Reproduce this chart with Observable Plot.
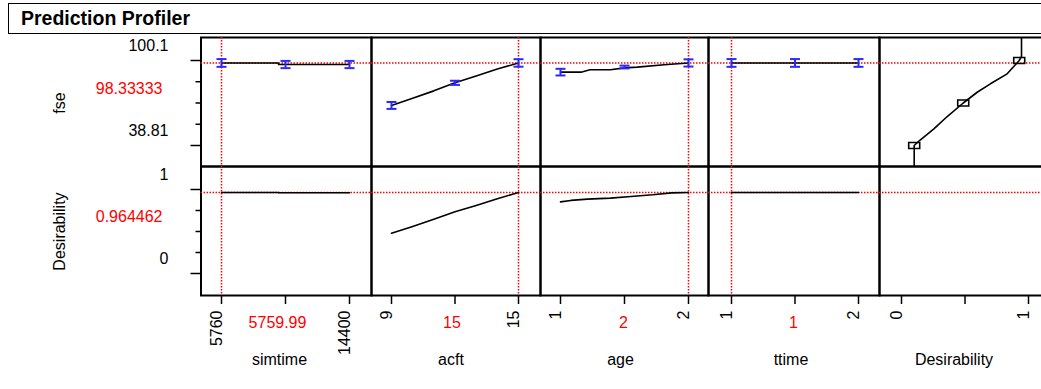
<!DOCTYPE html>
<html><head><meta charset="utf-8">
<script src="https://cdn.jsdelivr.net/npm/d3@7"></script>
<script src="https://cdn.jsdelivr.net/npm/@observablehq/plot@0.6"></script>
<style>
body{margin:0;background:#fff;font-family:"Liberation Sans",Arial,sans-serif;}
#chart{position:relative;width:1041px;height:389px;overflow:hidden;background:#fff;}
#title{position:absolute;left:8px;top:3px;width:1100px;height:31px;border:1.5px solid #000;box-sizing:border-box;font-weight:bold;font-size:19.5px;line-height:28px;padding-left:12px;color:#000;}
</style></head><body>
<div id="chart"><div id="title">Prediction Profiler</div></div>
<script>
// ---------- data ----------
const factorNames = ["simtime", "acft", "age", "ttime", "Desirability"];
const currentValues = [5759.99, 15, 2, 1];
const currentLabels = ["5759.99", "15", "2", "1"];
const xTicks = [[5760, 10080, 14400], [9, 12, 15], [1, 1.5, 2], [1, 1.5, 2], [0, 0.5, 1]];
const xTickLabels = [[5760, 14400], [9, 15], [1, 2], [1, 2], [0, 1]];

const fseCurrent = 98.33333, fseCurrentLabel = "98.33333";
const desCurrent = 0.964462, desCurrentLabel = "0.964462";
const fseTicks = [100.1, 38.81];
const fseMinorTicks = [84.78, 69.46, 54.13];
const desTicks = [1, 0];
const desMinorTicks = [0.75, 0.5, 0.25];

// simtime
const simX = [5760, 9600, 9610, 14400];
const simFse = [98.33, 98.33, 97.2, 97.2];
const simDes = [0.9645, 0.9645, 0.961, 0.961];
const simPtX = [5760, 10080, 14400];
const simPtFse = [98.33, 97.2, 97.2];
const simErr = [2.8, 2.6, 2.6];
// acft
const acftX = [9, 10, 11, 12, 13, 14, 15];
const acftFse = [67.7, 72.8, 78.2, 84.0, 89.0, 93.9, 98.33];
const acftDes = [0.48, 0.56, 0.645, 0.735, 0.81, 0.889, 0.9645];
const acftPtX = [9, 12, 15];
const acftPtFse = [67.7, 84.0, 98.33];
const acftErr = [2.5, 1.5, 2.7];
// age
const ageX = [1, 1.16, 1.23, 1.39, 1.5, 1.6, 1.81, 2];
const ageFse = [91.7, 91.7, 93.4, 93.4, 94.8, 95.3, 97.0, 98.33];
const ageDesX = [1, 1.08, 1.21, 1.39, 1.55, 1.72, 1.87, 2];
const ageDes = [0.853, 0.87, 0.885, 0.897, 0.917, 0.937, 0.96, 0.9645];
const agePtX = [1, 1.5, 2];
const agePtFse = [91.7, 95.4, 98.33];
const ageErr = [2.4, 1.0, 2.6];
// ttime
const ttX = [1, 1.5, 2];
const ttFse = [98.33, 98.33, 98.33];
const ttDes = [0.9645, 0.9645, 0.9645];
const ttPtX = [1, 1.5, 2];
const ttPtFse = [98.33, 98.33, 98.33];
const ttErr = [2.8, 2.8, 2.8];
// desirability function (desirability vs fse)
const desFnD = [0.1, 0.1, 0.142, 0.255, 0.36, 0.486, 0.596, 0.70, 0.832, 0.927, 0.945, 0.945];
const desFnFse = [20, 38.81, 42.4, 50.85, 59.7, 69.46, 77.2, 83.3, 90.5, 100.1, 103, 120];
const desSqD = [0.1, 0.486, 0.927];
const desSqFse = [38.81, 69.46, 100.1];

// ---------- layout ----------
const W = 1048, H = 389;
const colEdges = [200.5, 371, 540, 708, 879, 1048];
const rowEdges = [37, 166, 295];
const xRanges = [[221, 349], [391, 518], [560, 688], [731, 858], [901, 1028]];
const fseScale = {domain: [38.81, 100.1], range: [145, 60]};
const desScale = {domain: [0, 1], range: [273, 189]};
const nameDx = [-6, -4, -4, -4, -11];
const valueDx = [-8, -3, -1, -1.5];
const FONT = "'Liberation Sans', Arial, sans-serif";
const blue = "#2a2aff", red = "#ff0000";
const dotted = {stroke: red, strokeWidth: 1.5, strokeDasharray: "1.5 1.5"};

const profiles = [
  {lx: simX, lf: simFse, dx: simX, ld: simDes, px: simPtX, pf: simPtFse, pe: simErr},
  {lx: acftX, lf: acftFse, dx: acftX, ld: acftDes, px: acftPtX, pf: acftPtFse, pe: acftErr},
  {lx: ageX, lf: ageFse, dx: ageDesX, ld: ageDes, px: agePtX, pf: agePtFse, pe: ageErr},
  {lx: ttX, lf: ttFse, dx: ttX, ld: ttDes, px: ttPtX, pf: ttPtFse, pe: ttErr}
];

const capSymbol = {draw(ctx) { ctx.moveTo(-5, 0); ctx.lineTo(5, 0); }};
const rectSymbol = {draw(ctx) { ctx.rect(-5.5, -3, 11, 6); }};

function cell(c, r) {
  const top = r === 0;
  const marks = [Plot.frame({stroke: "black", strokeWidth: 2})];
  marks.push(Plot.ruleY([top ? fseCurrent : desCurrent], dotted));
  if (c < 4) marks.push(Plot.ruleX([currentValues[c]], dotted));
  if (c < 4) {
    const p = profiles[c];
    if (top) {
      const idx = d3.range(p.px.length);
      marks.push(Plot.line(p.lx, {x: p.lx, y: p.lf, stroke: "black", strokeWidth: 1.6}));
      const lo = p.pf.map((v, i) => v - p.pe[i]);
      const hi = p.pf.map((v, i) => v + p.pe[i]);
      marks.push(Plot.ruleX(idx, {x: p.px, y1: lo, y2: hi, stroke: blue, strokeWidth: 2}));
      marks.push(Plot.dot(idx, {x: p.px, y: lo, symbol: capSymbol, stroke: blue, strokeWidth: 2, fill: "none"}));
      marks.push(Plot.dot(idx, {x: p.px, y: hi, symbol: capSymbol, stroke: blue, strokeWidth: 2, fill: "none"}));
    } else {
      marks.push(Plot.line(p.dx, {x: p.dx, y: p.ld, stroke: "black", strokeWidth: 1.6}));
    }
  } else if (top) {
    marks.push(Plot.line(desFnD, {x: desFnD, y: desFnFse, stroke: "black", strokeWidth: 1.6, clip: true}));
    marks.push(Plot.dot(desSqD, {x: desSqD, y: desSqFse, symbol: rectSymbol, stroke: "black", strokeWidth: 1.6, fill: "none"}));
  }
  if (c === 0) {
    const major = top ? fseTicks : desTicks;
    const minor = top ? fseMinorTicks : desMinorTicks;
    marks.push(Plot.axisY(major, {anchor: "left", tickSize: 10, fill: "none", strokeWidth: 1.5, label: null}));
    marks.push(Plot.axisY(minor, {anchor: "left", tickSize: 5, fill: "none", strokeWidth: 1.5, label: null}));
    marks.push(Plot.axisY(major, {anchor: "left", stroke: "none", tickSize: 10, tickPadding: 22.5, dy: -14.5,
      fontSize: 16, fill: "black", tickFormat: d => String(d), label: null}));
    marks.push(Plot.text([top ? fseCurrentLabel : desCurrentLabel], {text: d => d, y: [minor[1]], frameAnchor: "left",
      dx: -38.5, dy: -14.5, textAnchor: "end", fill: red, fontSize: 16}));
    marks.push(Plot.text([top ? "fse" : "Desirability"], {text: d => d, y: [minor[1]], frameAnchor: "left",
      dx: -141, textAnchor: "middle", lineAnchor: "middle", rotate: -90, fill: "black", fontSize: 16}));
  }
  if (!top) {
    marks.push(Plot.axisX(xTicks[c], {anchor: "bottom", tickSize: 9, fill: "none", strokeWidth: 1.5, label: null}));
    marks.push(Plot.axisX(xTickLabels[c], {anchor: "bottom", stroke: "none", tickSize: 9, tickPadding: 6, tickRotate: -90,
      dx: -5, fontSize: 16, fill: "black", tickFormat: d => String(d), label: null}));
    if (c < 4) marks.push(Plot.text([currentLabels[c]], {text: d => d, x: [xTicks[c][1]], frameAnchor: "bottom",
      dy: 32, dx: valueDx[c], fill: red, fontSize: 16}));
    marks.push(Plot.text([factorNames[c]], {text: d => d, x: [xTicks[c][1]], frameAnchor: "bottom",
      dy: 69.5, dx: nameDx[c], fill: "black", fontSize: 16}));
  }
  const xr = xRanges[c];
  const xd = [xTicks[c][0], xTicks[c][xTicks[c].length - 1]];
  return Plot.plot({
    width: W, height: H,
    marginLeft: colEdges[c], marginRight: W - colEdges[c + 1],
    marginTop: rowEdges[r], marginBottom: H - rowEdges[r + 1],
    x: {domain: xd, range: xr, axis: null},
    y: {...(top ? fseScale : desScale), axis: null},
    style: `position:absolute;left:0;top:0;background:none;max-width:none;overflow:visible;font-family:${FONT};color:black;`,
    marks
  });
}

const chart = document.getElementById("chart");
for (let r = 0; r < 2; r++) for (let c = 0; c < 5; c++) chart.appendChild(cell(c, r));
</script>
</body></html>
